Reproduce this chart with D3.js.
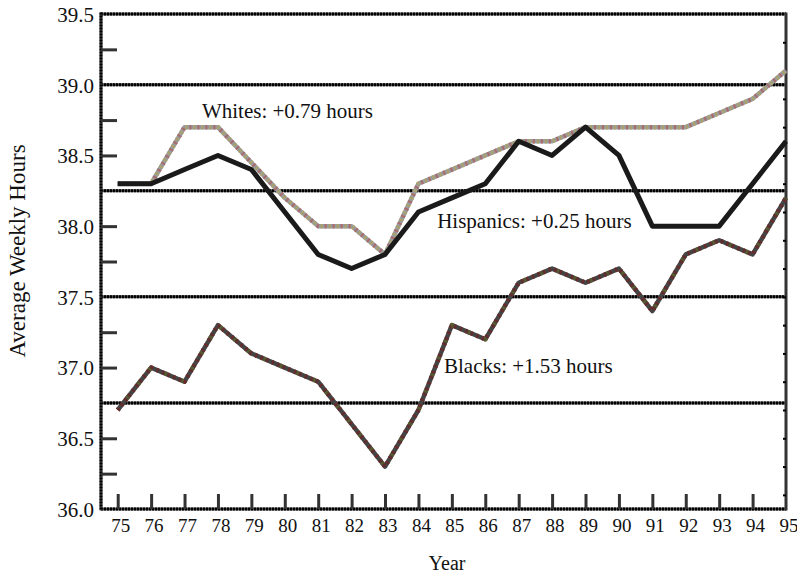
<!DOCTYPE html>
<html>
<head>
<meta charset="utf-8">
<script src="https://cdn.jsdelivr.net/npm/d3@7"></script>
<style>
  html, body { margin: 0; padding: 0; background: #fff; }
  svg { display: block; }
  text { font-family: "Liberation Serif", "Times New Roman", serif; fill: #111; }
</style>
</head>
<body>
<svg id="chart" width="797" height="573"></svg>
<script>
// ---- data ----
const years = [75, 76, 77, 78, 79, 80, 81, 82, 83, 84, 85, 86, 87, 88, 89, 90, 91, 92, 93, 94, 95];
const whites    = [38.3, 38.3, 38.7, 38.7, 38.45, 38.2, 38.0, 38.0, 37.8, 38.3, 38.4, 38.5, 38.6, 38.6, 38.7, 38.7, 38.7, 38.7, 38.8, 38.9, 39.1];
const hispanics = [38.3, 38.3, 38.4, 38.5, 38.4, 38.1, 37.8, 37.7, 37.8, 38.1, 38.2, 38.3, 38.6, 38.5, 38.7, 38.5, 38.0, 38.0, 38.0, 38.3, 38.6];
const blacks    = [36.7, 37.0, 36.9, 37.3, 37.1, 37.0, 36.9, 36.6, 36.3, 36.7, 37.3, 37.2, 37.6, 37.7, 37.6, 37.7, 37.4, 37.8, 37.9, 37.8, 38.2];
const yTickLabels = ["36.0", "36.5", "37.0", "37.5", "38.0", "38.5", "39.0", "39.5"];
const yMinorTicks = [36.25, 36.5, 37.0, 37.25, 37.75, 38.0, 38.5, 38.75, 39.25];
const gridValues = [36.75, 37.5, 38.25, 39.0, 39.5];
const seriesLabels = [
  { text: "Whites: +0.79 hours",    year: 80.08, value: 38.765 },
  { text: "Hispanics: +0.25 hours", year: 87.47, value: 37.987 },
  { text: "Blacks: +1.53 hours",    year: 87.29, value: 36.962 }
];

// ---- layout ----
const svg = d3.select("#chart");
const x = d3.scaleLinear().domain([74.5, 95]).range([101, 786]);
const y = d3.scaleLinear().domain([36, 39.5]).range([509, 14]);

function dotted(sel) {
  sel.attr("stroke", "#4a4a4a").attr("stroke-width", 3);
}
function dottedTop(sel) {
  sel.attr("stroke", "#000").attr("stroke-width", 3).attr("stroke-dasharray", "2,1");
}

// gridlines
const gridG = svg.append("g");
gridValues.forEach(v => {
  gridG.append("line").attr("x1", x(74.5)).attr("x2", x(95)).attr("y1", y(v)).attr("y2", y(v)).call(dotted);
  gridG.append("line").attr("x1", x(74.5)).attr("x2", x(95)).attr("y1", y(v)).attr("y2", y(v)).call(dottedTop);
});

// bottom axis line (dotted)
gridG.append("line").attr("x1", x(74.5)).attr("x2", x(95)).attr("y1", y(36)).attr("y2", y(36)).call(dotted);
gridG.append("line").attr("x1", x(74.5)).attr("x2", x(95)).attr("y1", y(36)).attr("y2", y(36)).call(dottedTop);
// left axis (dotted)
gridG.append("line").attr("x1", x(74.5)).attr("x2", x(74.5)).attr("y1", y(39.5) - 1.5).attr("y2", y(36) + 1.5).call(dotted);
gridG.append("line").attr("x1", x(74.5)).attr("x2", x(74.5)).attr("y1", y(39.5) - 1.5).attr("y2", y(36) + 1.5).call(dottedTop);
// right axis (solid)
gridG.append("line").attr("x1", x(95)).attr("x2", x(95)).attr("y1", y(39.5) - 1.5).attr("y2", y(36) + 1.5)
  .attr("stroke", "#333").attr("stroke-width", 3);

// y minor ticks (inside, left)
const yAxisG = svg.append("g").attr("transform", `translate(${x(74.5)},0)`);
yAxisG.call(d3.axisRight(y).tickValues(yMinorTicks).tickSize(16).tickFormat(""))
  .call(g => g.select(".domain").remove())
  .call(g => g.selectAll(".tick line").attr("stroke", "#333").attr("stroke-width", 3));

// right axis small ticks
const rAxisG = svg.append("g").attr("transform", `translate(${x(95)},0)`);
rAxisG.call(d3.axisLeft(y).tickValues(d3.range(36.1, 39.4, 0.2)).tickSize(3).tickFormat(""))
  .call(g => g.select(".domain").remove())
  .call(g => g.selectAll(".tick line").attr("stroke", "#000").attr("stroke-width", 2));

// y labels
const yLabG = svg.append("g").attr("transform", `translate(${x(74.5) - 7},0)`);
yLabG.call(d3.axisLeft(y).tickValues(yTickLabels.map(Number)).tickSize(0).tickFormat((d, i) => yTickLabels[i]))
  .call(g => g.select(".domain").remove())
  .call(g => g.selectAll(".tick text").attr("font-size", 21).attr("fill", "#111")
    .attr("font-family", "'Liberation Serif', serif").attr("dy", "0.35em").attr("x", 0));

// x ticks (inside, upward)
const xAxisG = svg.append("g").attr("transform", `translate(0,${y(36)})`);
xAxisG.call(d3.axisTop(x).tickValues(years.slice(0, -1)).tickSize(15).tickFormat(""))
  .call(g => g.select(".domain").remove())
  .call(g => g.selectAll(".tick line").attr("stroke", "#333").attr("stroke-width", 3));

// x labels
const xLabG = svg.append("g").attr("transform", `translate(2.5,${y(36)})`);
xLabG.call(d3.axisBottom(x).tickValues(years).tickSize(0).tickFormat(d => String(d)))
  .call(g => g.select(".domain").remove())
  .call(g => g.selectAll(".tick text").attr("font-size", 19).attr("fill", "#111")
    .attr("font-family", "'Liberation Serif', serif").attr("y", 10));

// lines
const lineGen = d3.line().x((d, i) => x(years[i])).y(d => y(d));
const lg = svg.append("g").attr("fill", "none").attr("stroke-linejoin", "round");

// Whites: light gray with rose / olive speckle
lg.append("path").datum(whites).attr("d", lineGen).attr("stroke", "#9a9a9a").attr("stroke-width", 4.5);
lg.append("path").datum(whites).attr("d", lineGen).attr("stroke", "#a96b6b").attr("stroke-width", 4.5).attr("stroke-dasharray", "2,6");
lg.append("path").datum(whites).attr("d", lineGen).attr("stroke", "#aaa36c").attr("stroke-width", 4.5).attr("stroke-dasharray", "2,6").attr("stroke-dashoffset", 4);

// Blacks: dark gray with maroon speckle
lg.append("path").datum(blacks).attr("d", lineGen).attr("stroke", "#444").attr("stroke-width", 4.5);
lg.append("path").datum(blacks).attr("d", lineGen).attr("stroke", "#6a2a2a").attr("stroke-width", 4.5).attr("stroke-dasharray", "2,4");
lg.append("path").datum(blacks).attr("d", lineGen).attr("stroke", "#5e5a2a").attr("stroke-width", 4.5).attr("stroke-dasharray", "2,16").attr("stroke-dashoffset", 3);

// Hispanics: solid black
lg.append("path").datum(hispanics).attr("d", lineGen).attr("stroke", "#1a1a1a").attr("stroke-width", 5);

// series labels
svg.append("g").selectAll("text").data(seriesLabels).join("text")
  .attr("x", d => x(d.year)).attr("y", d => y(d.value))
  .attr("text-anchor", "middle").attr("font-size", 21)
  .text(d => d.text);

// axis titles
svg.append("text").attr("x", 447).attr("y", 570).attr("text-anchor", "middle").attr("font-size", 20).text("Year");
svg.append("text").attr("transform", "translate(25,251) rotate(-90)").attr("text-anchor", "middle").attr("font-size", 23).text("Average Weekly Hours");
</script>
</body>
</html>
